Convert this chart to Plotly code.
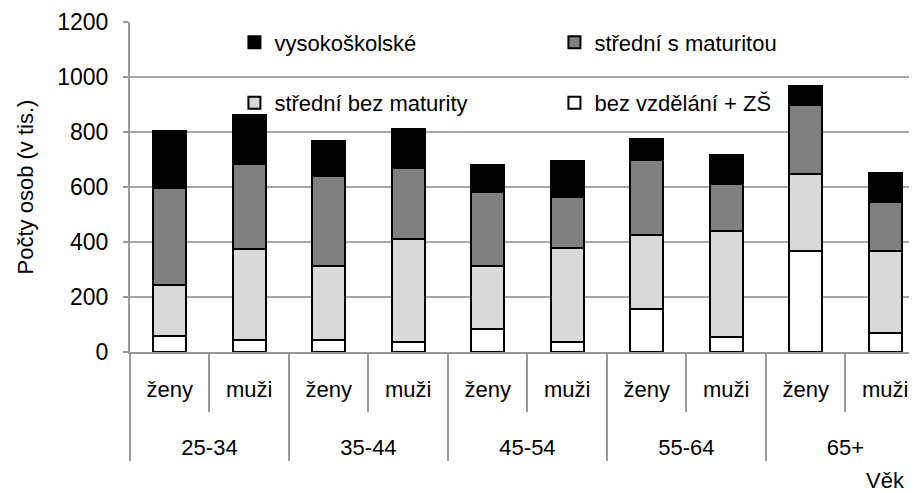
import plotly.graph_objects as go

age_groups = ["25-34", "35-44", "45-54", "55-64", "65+"]
genders = ["ženy", "muži"]

bez_vzdelani_zs = [57, 42, 42, 36, 85, 36, 157, 54, 366, 70]
stredni_bez_maturity = [187, 332, 272, 375, 229, 343, 267, 386, 283, 297]
stredni_s_maturitou = [351, 308, 326, 257, 267, 186, 273, 170, 250, 178]
vysokoskolske = [208, 179, 127, 144, 99, 129, 78, 106, 70, 106]

series = [
    ("bez vzdělání + ZŠ", bez_vzdelani_zs, "#ffffff", "legend2"),
    ("střední bez maturity", stredni_bez_maturity, "#d9d9d9", "legend2"),
    ("střední s maturitou", stredni_s_maturitou, "#808080", "legend"),
    ("vysokoškolské", vysokoskolske, "#000000", "legend"),
]

x_outer = [ag for ag in age_groups for g in genders]
# an invisible spacer line gives room between the two label rows
SPACER = "<br><span style='font-size:65px'>\u00a0</span>"
x_inner = [g + SPACER for ag in age_groups for g in genders]

FONT = "Liberation Sans, Arial, sans-serif"
fig = go.Figure()
for name, vals, color, lg in series:
    fig.add_trace(go.Bar(
        x=[x_outer, x_inner], y=vals, name=name,
        marker=dict(color=color, line=dict(color="#000000", width=2)),
        legend=lg,
    ))

fig.update_layout(
    barmode="stack",
    bargap=0.59,
    width=909, height=485,
    margin=dict(l=122, r=0, t=14, b=141),
    plot_bgcolor="#ffffff", paper_bgcolor="#ffffff",
    font=dict(family=FONT, size=22, color="#000000"),
    legend=dict(orientation="h", x=0.1327, xanchor="left", y=0.938, yanchor="middle",
                traceorder="reversed", entrywidth=275, font=dict(size=22),
                bgcolor="rgba(0,0,0,0)"),
    legend2=dict(orientation="h", x=0.1327, xanchor="left", y=0.755, yanchor="middle",
                 traceorder="reversed", entrywidth=275, font=dict(size=22),
                 bgcolor="rgba(0,0,0,0)"),
    xaxis=dict(
        type="multicategory", range=[-0.5, 9.4], automargin=False,
        showline=True, linecolor="#999999", linewidth=2,
        ticks="outside", tickson="boundaries", ticklen=58, tickcolor="#999999", tickwidth=2,
        ticklabelstandoff=17,
        showdividers=True, dividercolor="#999999", dividerwidth=2,
        tickfont=dict(size=22),
        showgrid=False,
    ),
    yaxis=dict(
        range=[0, 1200], dtick=200, automargin=False,
        showline=True, linecolor="#999999", linewidth=2,
        ticks="outside", ticklen=5, tickcolor="#999999", tickwidth=2,
        ticklabelstandoff=10,
        showgrid=True, gridcolor="#a6a6a6", gridwidth=1.5,
        zeroline=False,
        tickfont=dict(size=23),
        title=dict(text="Počty osob (v tis.)", font=dict(size=22), standoff=18),
    ),
    annotations=[dict(text="Věk", xref="paper", yref="paper", x=1, y=-0.388,
                      xanchor="right", yanchor="middle", showarrow=False, xshift=-10,
                      font=dict(size=22))],
)

fig.write_html("out.html")
